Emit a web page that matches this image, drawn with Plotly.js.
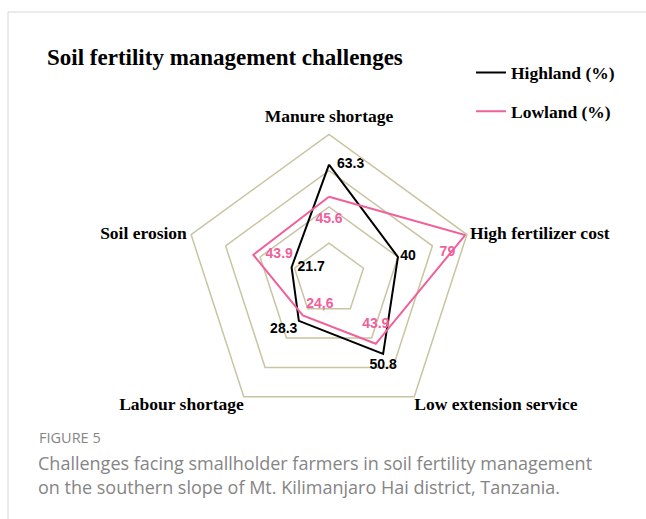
<!DOCTYPE html>
<html>
<head>
<meta charset="utf-8">
<script src="https://cdn.plot.ly/plotly-3.0.1.min.js"></script>
<style>html,body{margin:0;padding:0;background:#fff;}#chart{width:646px;height:519px;}</style>
</head>
<body>
<div id="chart"></div>
<script>
var categories = ["Manure shortage", "High fertilizer cost", "Low extension service", "Labour shortage", "Soil erosion"];
var highland = [63.3, 40, 50.8, 28.3, 21.7];
var lowland = [45.6, 79, 43.9, 24.6, 43.9];
var highlandLabels = ["63.3", "40", "50.8", "28.3", "21.7"];
var lowlandLabels = ["45.6", "79", "43.9", "24,6", "43.9"];
var seriesNames = ["Highland (%)", "Lowland (%)"];
var radialTicks = [20, 40, 60, 80];
var radialMax = 80;

function closeLoop(a) { return a.concat([a[0]]); }

var W = 646, H = 519;
function px(x) { return x / W; }
function py(y) { return 1 - y / H; }

var labelFont = {family: "Liberation Sans", size: 14, weight: "bold"};
var hiddenMarkerLine = {width: 0, color: "rgba(0,0,0,0)"};

var traces = [
  {
    type: "scatterpolar",
    r: closeLoop(highland),
    theta: closeLoop(categories),
    mode: "lines+markers+text",
    name: seriesNames[0],
    legendgroup: "h",
    text: highlandLabels.concat([""]),
    textposition: ["middle right", "middle right", "bottom center", "bottom left", "middle right", "middle right"],
    textfont: Object.assign({color: "#000000"}, labelFont),
    marker: {size: [11.2, 2.2, 6.4, 0.8, 8, 0], color: "rgba(0,0,0,0)", line: hiddenMarkerLine},
    line: {color: "#000000", width: 2},
    cliponaxis: false,
    hoverinfo: "skip"
  },
  {
    type: "scatterpolar",
    r: closeLoop(lowland),
    theta: closeLoop(categories),
    mode: "lines+markers+text",
    name: seriesNames[1],
    legendgroup: "l",
    text: lowlandLabels.concat([""]),
    textposition: ["bottom center", "bottom left", "top center", "top right", "middle right", "middle right"],
    textfont: Object.assign({color: "#f0609a"}, labelFont),
    marker: {size: [23.5, 14.4, 17.9, 4, 18, 0], color: "rgba(0,0,0,0)", line: hiddenMarkerLine},
    line: {color: "#f0609a", width: 2},
    cliponaxis: false,
    hoverinfo: "skip"
  },
  {
    type: "scatterpolar",
    r: categories.map(function () { return radialMax; }),
    theta: categories,
    mode: "markers+text",
    text: categories,
    textposition: ["top center", "middle right", "bottom right", "bottom left", "middle left"],
    textfont: {family: "Liberation Serif", size: 17.5, color: "#000", weight: "bold"},
    marker: {size: [11.5, 3.2, 0, 0, 5.2], color: "rgba(0,0,0,0)", line: hiddenMarkerLine},
    showlegend: false,
    cliponaxis: false,
    hoverinfo: "skip"
  }
];

var layout = {
  width: W, height: H,
  margin: {l: 0, r: 0, t: 0, b: 0},
  paper_bgcolor: "#fff",
  title: {
    text: "Soil fertility management challenges",
    x: px(47), xanchor: "left", xref: "paper",
    y: py(57), yanchor: "middle", yref: "paper",
    font: {family: "Liberation Serif", size: 23, color: "#000", weight: "bold"}
  },
  showlegend: true,
  legend: {
    x: px(471), xanchor: "left", y: py(54.5), yanchor: "top",
    font: {family: "Liberation Serif", size: 17.5, color: "#000", weight: "bold"},
    tracegroupgap: 13,
    bgcolor: "rgba(0,0,0,0)"
  },
  polar: {
    domain: {x: [px(184), px(474)], y: [py(424.4), py(134.4)]},
    bgcolor: "#fff",
    gridshape: "linear",
    radialaxis: {
      range: [0, radialMax],
      tickvals: radialTicks,
      showticklabels: false,
      ticks: "",
      showline: false,
      gridcolor: "#c9c4a1",
      gridwidth: 1.5,
      angle: 90
    },
    angularaxis: {
      rotation: 90,
      direction: "clockwise",
      showgrid: false,
      showticklabels: false,
      ticks: "",
      showline: true,
      linecolor: "#c9c4a1",
      linewidth: 1.5
    }
  },
  shapes: [
    {type: "line", xref: "paper", yref: "paper", x0: px(8), x1: 1, y0: py(12), y1: py(12), line: {color: "#d6d6d6", width: 1}},
    {type: "line", xref: "paper", yref: "paper", x0: px(8), x1: px(8), y0: py(12), y1: 0, line: {color: "#d6d6d6", width: 1}}
  ],
  annotations: [
    {text: "FIGURE 5", xref: "paper", yref: "paper", x: px(37), y: py(437), xanchor: "left", yanchor: "middle", showarrow: false,
     font: {family: "Open Sans", size: 14.5, color: "#858585"}},
    {text: "Challenges facing smallholder farmers in soil fertility management", xref: "paper", yref: "paper", x: px(36), y: py(463), xanchor: "left", yanchor: "middle", showarrow: false,
     font: {family: "Open Sans", size: 18, color: "#858585"}},
    {text: "on the southern slope of Mt. Kilimanjaro Hai district, Tanzania.", xref: "paper", yref: "paper", x: px(36), y: py(487), xanchor: "left", yanchor: "middle", showarrow: false,
     font: {family: "Open Sans", size: 18, color: "#858585"}}
  ]
};

Plotly.newPlot("chart", traces, layout, {staticPlot: true, displayModeBar: false});
</script>
</body>
</html>
